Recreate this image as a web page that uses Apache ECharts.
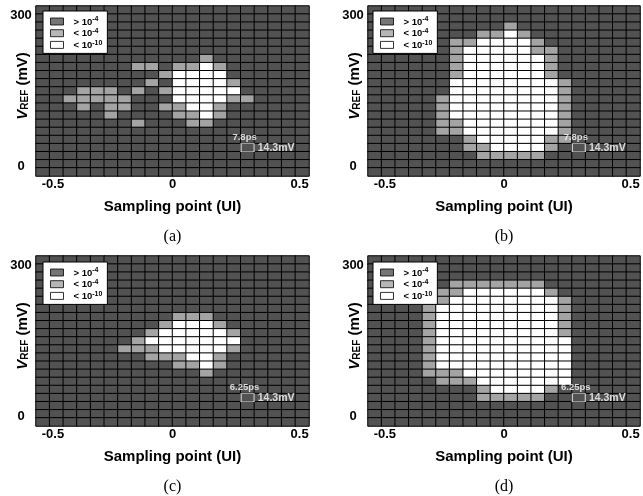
<!DOCTYPE html>
<html>
<head>
<meta charset="utf-8">
<script src="https://cdn.jsdelivr.net/npm/echarts/dist/echarts.min.js"></script>
<style>
  html, body { margin: 0; padding: 0; background: #fff; }
  #chart-container { width: 643px; height: 496px; }
</style>
</head>
<body>
<div id="chart-container"></div>
<script>
var dom = document.getElementById('chart-container');
var myChart = echarts.init(dom, null, { renderer: 'canvas' });

// error-rate level of each cell: '.' > 10^-4, '+' < 10^-4, 'o' < 10^-10
var levelChars = ['.', '+', 'o'];
var levelNames = ['> 10-4', '< 10-4', '< 10-10'];
var levelColors = ['#525252', '#a4a4a4', '#ffffff'];

var colIdx = [0, 1, 2, 3, 4, 5, 6, 7, 8, 9, 10, 11, 12, 13, 14, 15, 16, 17, 18, 19];
var rowIdx = [0, 1, 2, 3, 4, 5, 6, 7, 8, 9, 10, 11, 12, 13, 14, 15, 16, 17, 18, 19, 20];

// rows listed from the top (300 mV) down to 0 mV
var panelA = [
  '....................',
  '....................',
  '....................',
  '....................',
  '....................',
  '....................',
  '............+.......',
  '.......++.++o+......',
  '.........+oooo......',
  '........+.oooo+.....',
  '...+++.+.+ooooo.....',
  '..+++++...oooo++....',
  '...+.++..++oo+......',
  '.....+....++o+......',
  '.......+...++.......',
  '....................',
  '....................',
  '....................',
  '....................',
  '....................',
  '....................'
];
var panelB = [
  '....................',
  '....................',
  '..........+.........',
  '........++o+........',
  '......++oooo+.......',
  '......+ooooo++......',
  '......+oooooo+......',
  '......+oooooo+......',
  '......+oooooo+......',
  '......oooooooo+.....',
  '......oooooooo+.....',
  '.....+oooooooo+.....',
  '.....+oooooooo+.....',
  '.....+oooooooo+.....',
  '.....++ooooooo+.....',
  '.....++ooooooo+.....',
  '.......+ooooo++.....',
  '.......++oooo+......',
  '........+++++.......',
  '....................',
  '....................'
];
var panelC = [
  '....................',
  '....................',
  '....................',
  '....................',
  '....................',
  '....................',
  '....................',
  '..........+++.......',
  '.........+ooo+......',
  '........+ooooo+.....',
  '.......+ooooooo.....',
  '......+++ooooo+.....',
  '........+++oo+......',
  '..........++o+......',
  '............+.......',
  '....................',
  '....................',
  '....................',
  '....................',
  '....................',
  '....................'
];
var panelD = [
  '....................',
  '....................',
  '....................',
  '......+++++++.......',
  '.....++oooooo+......',
  '....++oooooooo+.....',
  '....+ooooooooo+.....',
  '....+ooooooooo+.....',
  '....+ooooooooo+.....',
  '....+ooooooooo+.....',
  '....+oooooooooo.....',
  '....+oooooooooo.....',
  '....+oooooooooo.....',
  '....+oooooooooo.....',
  '....+++oooooooo.....',
  '.....+++ooooooo.....',
  '........+oooo+......',
  '........+++++.......',
  '....................',
  '....................',
  '....................'
];

var panels = [panelA, panelB, panelC, panelD];
var panelLabels = ['(a)', '(b)', '(c)', '(d)'];
var stepLabels = ['7.8ps', '7.8ps', '6.25ps', '6.25ps'];
var voltStep = '14.3mV';
var stepCell = [15, 3]; // column, row counted from the bottom
var xTicks = [-0.5, 0, 0.5];
var yTicks = [0, 300];
var xName = 'Sampling point (UI)';

var grids = [
  { left: 36, top: 6, width: 273, height: 170 },
  { left: 368, top: 6, width: 272, height: 170 },
  { left: 36, top: 256, width: 273, height: 170 },
  { left: 368, top: 256, width: 272, height: 170 }
];
var legendPos = [[43, 11], [373, 11], [43, 262], [373, 262]];

var font = 'Liberation Sans';
var tickStyle = { fontSize: 13, fontWeight: 'bold', color: '#000', fontFamily: font };

function cells(rows) {
  var out = [];
  rows.forEach(function (line, r) {
    for (var c = 0; c < line.length; c++) {
      out.push([colIdx[c], rowIdx[rows.length - 1 - r], levelChars.indexOf(line[c])]);
    }
  });
  return out;
}

var xAxes = [], yAxes = [], series = [], legends = [], texts = [];

grids.forEach(function (g, p) {
  xAxes.push({ type: 'category', gridIndex: p, position: 'top', data: colIdx, show: false });
  xAxes.push({
    type: 'value', gridIndex: p, position: 'bottom', min: -0.55, max: 0.55,
    axisLine: { show: false }, axisTick: { show: false }, splitLine: { show: false },
    axisLabel: {
      customValues: xTicks, margin: 2,
      formatter: function (v) {
        return v < 0 ? '{l|' + v + '}' : (v > 0 ? '{r|' + v + '}' : '{c|' + v + '}');
      },
      rich: {
        l: Object.assign({ padding: [0, 0, 0, 9] }, tickStyle),
        c: Object.assign({}, tickStyle),
        r: Object.assign({ padding: [0, 0, 0, 6] }, tickStyle)
      }
    },
    name: xName, nameLocation: 'middle', nameGap: 23,
    nameTextStyle: { fontSize: 15, fontWeight: 'bold', color: '#000', fontFamily: font }
  });
  yAxes.push({ type: 'category', gridIndex: p, position: 'right', data: rowIdx, show: false });
  yAxes.push({
    type: 'value', gridIndex: p, position: 'left', min: -18, max: 318,
    axisLine: { show: false }, axisTick: { show: false }, splitLine: { show: false },
    axisLabel: Object.assign({ customValues: yTicks, margin: 15, align: 'center' }, tickStyle),
    name: '{v|V}{s|REF}{n| (mV)}', nameLocation: 'middle', nameRotate: 90, nameGap: 6,
    nameMoveOverlap: false,
    nameTextStyle: {
      padding: [0, 0, 0, 10],
      rich: {
        v: { fontSize: 15, fontWeight: 'bold', fontStyle: 'italic', fontFamily: font, color: '#000', lineHeight: 16, verticalAlign: 'bottom' },
        s: { fontSize: 10, fontWeight: 'bold', fontFamily: font, color: '#000', lineHeight: 16, verticalAlign: 'bottom' },
        n: { fontSize: 15, fontWeight: 'bold', fontFamily: font, color: '#000', lineHeight: 16, verticalAlign: 'bottom' }
      }
    }
  });

  series.push({
    type: 'heatmap',
    xAxisIndex: p * 2, yAxisIndex: p * 2,
    data: cells(panels[p]),
    itemStyle: { borderColor: '#000', borderWidth: 1 },
    emphasis: { disabled: true },
    silent: true
  });

  legends.push({
    left: legendPos[p][0], top: legendPos[p][1],
    orient: 'vertical', icon: 'rect', selectedMode: false,
    itemWidth: 13, itemHeight: 7, itemGap: 0.7,
    padding: [5, 5, 3, 7],
    backgroundColor: '#fff', borderColor: '#000', borderWidth: 1,
    itemStyle: { borderColor: '#000', borderWidth: 1 },
    data: levelNames,
    formatter: function (name) {
      var parts = name.split(' 10');
      return '{t|' + parts[0] + ' 10}{u|' + parts[1] + '}';
    },
    textStyle: {
      rich: {
        t: { fontSize: 9.5, fontWeight: 'bold', fontFamily: font, color: '#000', lineHeight: 11, verticalAlign: 'bottom', padding: [0, 0, 0, 5] },
        u: { fontSize: 7, fontWeight: 'bold', fontFamily: font, color: '#000', lineHeight: 11, verticalAlign: 'top' }
      }
    }
  });

  texts.push({
    type: 'text',
    x: g.left + g.width / 2,
    y: g.top + g.height + 61,
    style: { text: panelLabels[p], fontSize: 16, fontFamily: 'Liberation Serif', fill: '#000', align: 'center', verticalAlign: 'middle' }
  });
});

// step annotation box
grids.forEach(function (g, p) {
  series.push({
    type: 'scatter',
    xAxisIndex: p * 2, yAxisIndex: p * 2,
    z: 5, silent: true,
    data: [
      {
        value: stepCell, symbol: 'rect', symbolSize: [13, 8],
        itemStyle: { color: 'rgba(0,0,0,0)', borderColor: '#fff', borderWidth: 1 },
        label: { show: true, position: 'right', distance: 3, formatter: voltStep, color: '#fff', fontWeight: 'bold', fontSize: 10.5, fontFamily: font }
      },
      {
        value: stepCell, symbol: 'rect', symbolSize: [13, 8],
        itemStyle: { color: 'rgba(0,0,0,0)', borderWidth: 0 },
        label: { show: true, position: 'top', distance: 1, offset: [-3, 0], formatter: stepLabels[p], color: '#fff', fontWeight: 'bold', fontSize: 9.5, fontFamily: font }
      }
    ]
  });
});

// legend entries
levelNames.forEach(function (name, i) {
  series.push({
    type: 'scatter', name: name, xAxisIndex: 1, yAxisIndex: 1, data: [],
    itemStyle: { color: levelColors[i] }
  });
});

var option = {
  animation: false,
  grid: grids.map(function (g) {
    return { left: g.left, top: g.top, width: g.width, height: g.height, outerBoundsMode: 'none' };
  }),
  xAxis: xAxes,
  yAxis: yAxes,
  visualMap: {
    type: 'piecewise', show: false, seriesIndex: [0, 1, 2, 3], dimension: 2,
    pieces: levelColors.map(function (c, i) { return { value: i, color: c }; })
  },
  legend: legends,
  graphic: texts,
  series: series
};

myChart.setOption(option);
window.addEventListener('resize', myChart.resize);
</script>
</body>
</html>
